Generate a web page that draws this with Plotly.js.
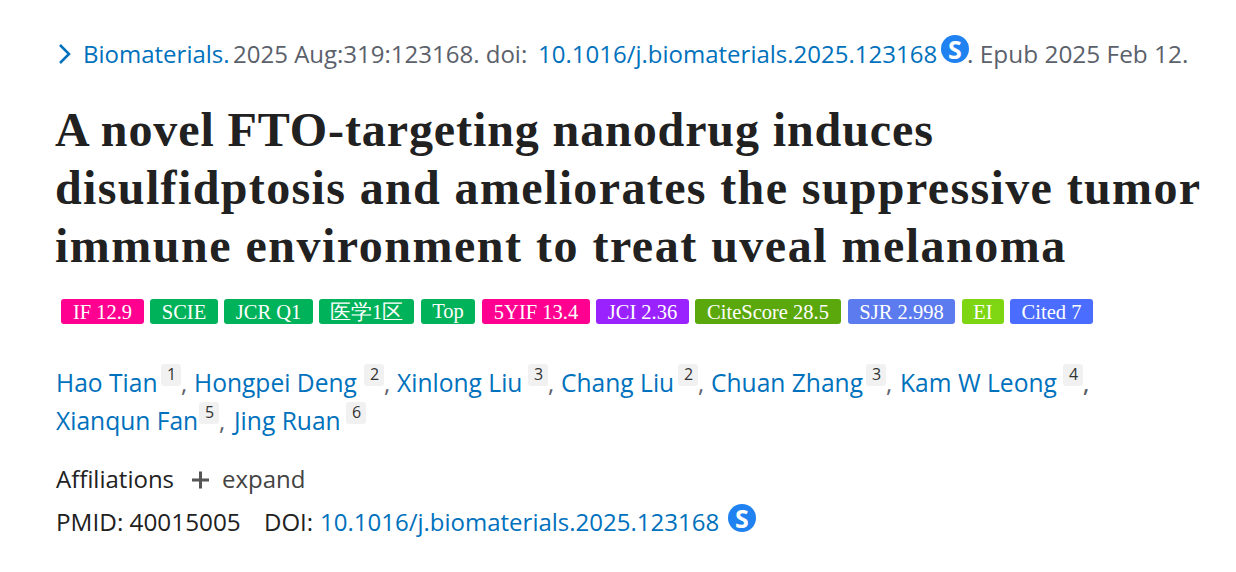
<!DOCTYPE html>
<html>
<head>
<meta charset="UTF-8">
<title>Article header</title>
<script src="https://cdn.plot.ly/plotly-3.0.1.min.js"></script>
<style>
  body { margin: 0; background: #fff; }
  #page { width: 1236px; height: 572px; }
  /* title font is narrower than the original one */
  .annotation-text[data-unformatted^="<b>A"] { letter-spacing: 0.9px; }
  .annotation-text[data-unformatted^="<b>d"] { letter-spacing: 1.37px; }
  .annotation-text[data-unformatted^="<b>i"] { letter-spacing: 1.5px; }
</style>
</head>
<body>
<div id="page"></div>
<script>
// text
const journal = 'Biomaterials.';
const citation = '2025 Aug:319:123168. doi:';
const doi = '10.1016/j.biomaterials.2025.123168';
const epub = '. Epub 2025 Feb 12.';
const titleLines = [
  'A novel FTO-targeting nanodrug induces',
  'disulfidptosis and ameliorates the suppressive tumor',
  'immune environment to treat uveal melanoma'
];
const badgeLabels = ['IF 12.9', 'SCIE', 'JCR Q1', '医学1区', 'Top', '5YIF 13.4', 'JCI 2.36', 'CiteScore 28.5', 'SJR 2.998', 'EI', 'Cited 7'];
const authors = ['Hao Tian', 'Hongpei Deng', 'Xinlong Liu', 'Chang Liu', 'Chuan Zhang', 'Kam W Leong', 'Xianqun Fan', 'Jing Ruan'];
const affiliationNums = ['1', '2', '3', '2', '3', '4', '5', '6'];
const pmidText = 'PMID: 40015005';

// layout of the page, in screen pixels
const badgeLeft = [61, 150, 224, 319, 421, 482, 596, 695, 848, 962, 1010];
const badgeRight = [144, 218, 313, 414, 475, 590, 689, 841, 955, 1004, 1093];
const badgeColors = ['#ff0090', '#00b259', '#00b259', '#00b259', '#00b259', '#ff0090', '#9a22ff', '#5ba80c', '#5b7bef', '#7ed612', '#4a6cff'];
const authorX = [56, 194, 397, 561, 711, 900, 56, 232];
const authorY = [382, 382, 382, 382, 382, 382, 420, 420];
const numLeft = [161, 364, 528, 678, 866, 1063, 199, 346];

const BLUE = '#0071bc', GREY = '#5b616b', DARK = '#212121';
const BODY = '"Open Sans", sans-serif';

function label(text, x, y, size, color, family, extra) {
  return Object.assign({
    text: text, x: x, y: y, xref: 'x', yref: 'y', showarrow: false,
    xanchor: 'left', yanchor: 'middle', borderpad: 0, borderwidth: 0,
    font: { family: family || BODY, size: size, color: color }
  }, extra || {});
}

function roundRect(x0, x1, y0, y1, r, color) {
  return {
    type: 'path', xref: 'x', yref: 'y', fillcolor: color, line: { width: 0 }, layer: 'below',
    path: `M${x0 + r},${y0} H${x1 - r} Q${x1},${y0} ${x1},${y0 + r} V${y1 - r} Q${x1},${y1} ${x1 - r},${y1} H${x0 + r} Q${x0},${y1} ${x0},${y1 - r} V${y0 + r} Q${x0},${y0} ${x0 + r},${y0} Z`
  };
}

function sIcon(cx, cy) {
  return { type: 'circle', xref: 'x', yref: 'y', x0: cx - 14, x1: cx + 14, y0: cy - 14, y1: cy + 14, fillcolor: '#1f82f0', line: { width: 0 }, layer: 'below' };
}

const notes = [], shapes = [];

// citation line
notes.push(label(journal, 83, 53, 24, BLUE));
notes.push(label(citation, 233, 53, 24, GREY));
notes.push(label(doi, 538, 53, 24, BLUE));
notes.push(label(epub, 967, 53, 24.4, GREY));
shapes.push({ type: 'path', xref: 'x', yref: 'y', path: 'M60,45 L69,54 L60,63', line: { color: BLUE, width: 2.5 } });
shapes.push(sIcon(955, 49));
notes.push(label('<b>S</b>', 955, 49, 25, '#fff', BODY, { xanchor: 'center' }));

// title
const titleY = [129, 187, 245];
titleLines.forEach((t, i) => notes.push(label('<b>' + t + '</b>', 55, titleY[i], 48, DARK, '"Liberation Serif", serif')));

// authors
authors.forEach((a, i) => {
  notes.push(label(a, authorX[i], authorY[i], 24.6, BLUE));
  shapes.push(roundRect(numLeft[i], numLeft[i] + 20, authorY[i] - 18, authorY[i] + 4, 3, '#f1f1f1'));
  notes.push(label(affiliationNums[i], numLeft[i] + 10, authorY[i] - 8, 16, '#333', BODY, { xanchor: 'center' }));
  if (i < authors.length - 1) notes.push(label(',', numLeft[i] + 20, authorY[i], 24, GREY));
});
notes.push(label(',', 1083, 382, 24, GREY));

// bottom block
notes.push(label('Affiliations', 56, 478, 24, DARK));
shapes.push({ type: 'path', xref: 'x', yref: 'y', path: 'M192,480 H209 M200.5,471.5 V488.5', line: { color: '#555', width: 3 } });
notes.push(label('expand', 222, 478, 24, '#444'));
notes.push(label(pmidText, 56, 521, 24.3, DARK));
notes.push(label('DOI:', 264, 521, 24, DARK));
notes.push(label(doi, 320, 521, 24, BLUE));
shapes.push(sIcon(742, 518));
notes.push(label('<b>S</b>', 742, 518, 25, '#fff', BODY, { xanchor: 'center' }));

// badges are one horizontal bar trace on the pixel axes
const badges = {
  type: 'bar', orientation: 'h',
  y: badgeLabels.map(() => 311.5),
  base: badgeLeft,
  x: badgeRight.map((r, i) => r - badgeLeft[i]),
  width: 25,
  text: badgeLabels,
  textposition: 'inside',
  insidetextanchor: 'middle',
  constraintext: 'none',
  textangle: 0,
  textfont: { family: '"Liberation Serif", serif', size: 20.5, color: '#fff' },
  marker: { color: badgeColors, line: { width: 0 } },
  hoverinfo: 'skip'
};

const layout = {
  width: 1236, height: 572,
  margin: { l: 0, r: 0, t: 0, b: 0 },
  paper_bgcolor: '#fff', plot_bgcolor: '#fff',
  showlegend: false,
  barmode: 'overlay',
  barcornerradius: 3,
  xaxis: { range: [0, 1236], visible: false, fixedrange: true },
  yaxis: { range: [572, 0], visible: false, fixedrange: true },
  annotations: notes,
  shapes: shapes
};

Plotly.newPlot('page', [badges], layout, { displayModeBar: false, staticPlot: true });
</script>
</body>
</html>
